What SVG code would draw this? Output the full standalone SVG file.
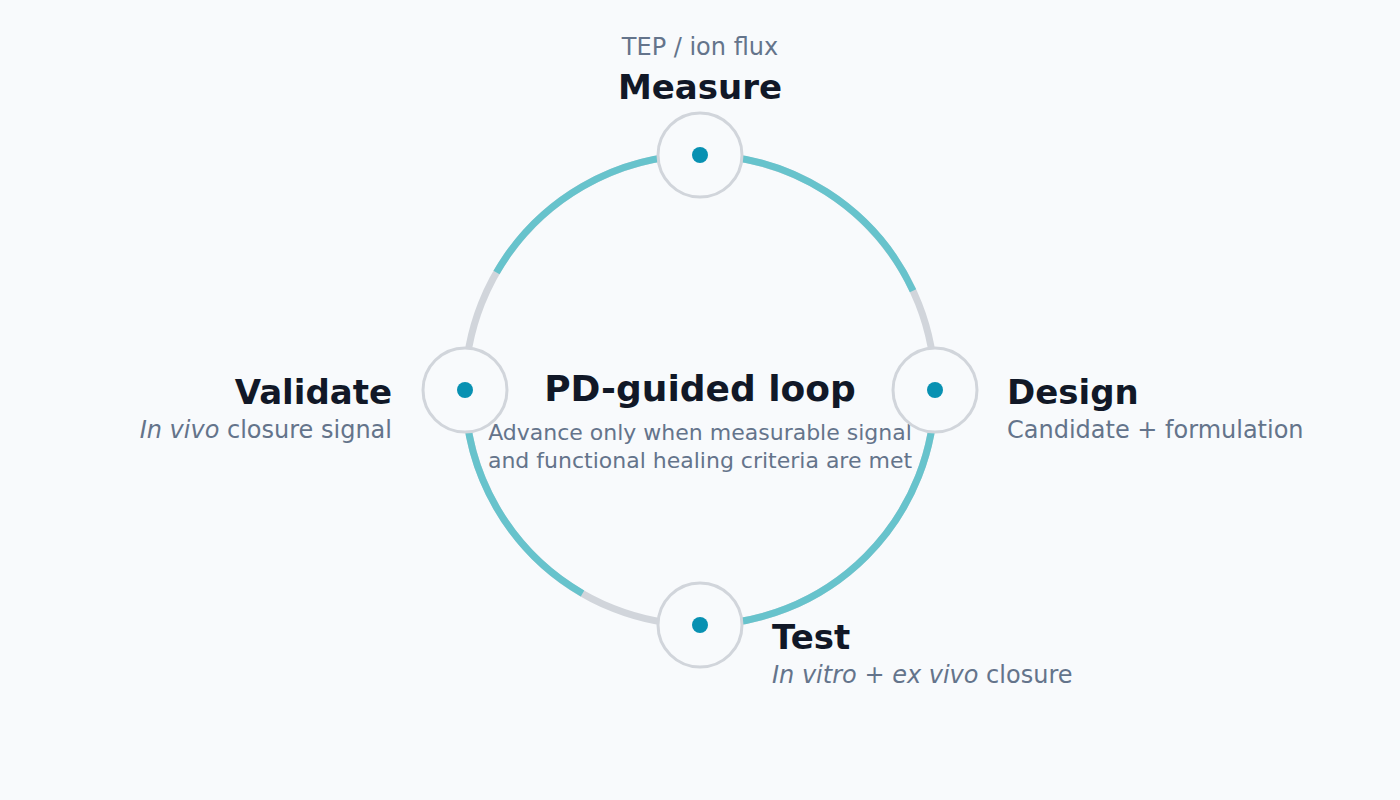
<svg xmlns="http://www.w3.org/2000/svg" width="1400" height="800" viewBox="0 0 1400 800">
<style>
.title{font-family:"DejaVu Sans",sans-serif;font-weight:bold;font-size:34px;fill:#111827}
.ctitle{font-family:"DejaVu Sans",sans-serif;font-weight:bold;font-size:36px;fill:#111827}
.sub{font-family:"DejaVu Sans",sans-serif;font-size:24px;fill:#64748b}
.csub{font-family:"DejaVu Sans",sans-serif;font-size:22px;fill:#64748b}
.ring{fill:none;stroke:#d1d5db;stroke-width:7}
.prog{fill:none;stroke:#67c3cc;stroke-width:7}
.node{fill:#f8fafc;stroke:#d1d5db;stroke-width:3}
.dot{fill:#0891b2}
</style>
<rect width="1400" height="800" fill="#f8fafc"/>
<g id="connectors">
<circle class="ring" cx="700" cy="390" r="235"/>
<path class="prog" d="M 496.5 272.5 A 235 235 0 0 1 700 155"/>
<path class="prog" d="M 700 155 A 235 235 0 0 1 913 290.7"/>
<path class="prog" d="M 935 390 A 235 235 0 0 1 700 625"/>
<path class="prog" d="M 582.5 593.5 A 235 235 0 0 1 465 390"/>
</g>
<g id="center">
<text class="ctitle" x="700" y="401" text-anchor="middle">PD-guided loop</text>
<text class="csub" x="700" y="440" text-anchor="middle">Advance only when measurable signal</text>
<text class="csub" x="700" y="468" text-anchor="middle">and functional healing criteria are met</text>
</g>
<g id="measure">
<circle class="node" cx="700" cy="155" r="42"/>
<circle class="dot" cx="700" cy="155" r="8"/>
<text class="sub" x="700" y="55" text-anchor="middle">TEP / ion flux</text>
<text class="title" x="700" y="99" text-anchor="middle">Measure</text>
</g>
<g id="design">
<circle class="node" cx="935" cy="390" r="42"/>
<circle class="dot" cx="935" cy="390" r="8"/>
<text class="title" x="1007" y="404">Design</text>
<text class="sub" x="1007" y="438">Candidate + formulation</text>
</g>
<g id="test">
<circle class="node" cx="700" cy="625" r="42"/>
<circle class="dot" cx="700" cy="625" r="8"/>
<text class="title" x="772" y="649">Test</text>
<text class="sub" x="772" y="683"><tspan font-style="italic">In vitro</tspan> + <tspan font-style="italic">ex vivo</tspan> closure</text>
</g>
<g id="validate">
<circle class="node" cx="465" cy="390" r="42"/>
<circle class="dot" cx="465" cy="390" r="8"/>
<text class="title" x="392" y="404" text-anchor="end">Validate</text>
<text class="sub" x="392" y="438" text-anchor="end"><tspan font-style="italic">In vivo</tspan> closure signal</text>
</g>
</svg>
